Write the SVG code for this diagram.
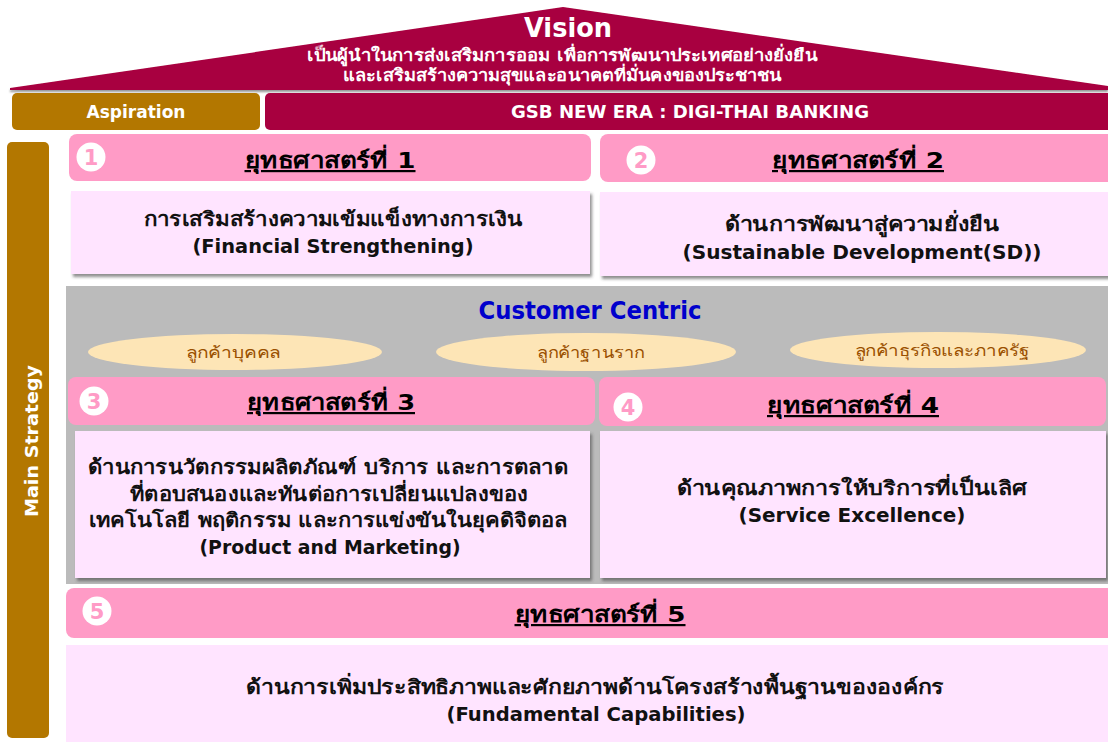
<svg xmlns="http://www.w3.org/2000/svg" width="1108" height="742" viewBox="0 0 1108 742">
  <defs>
    <filter id="shadow" x="-5%" y="-10%" width="110%" height="125%">
      <feDropShadow dx="2" dy="3" stdDeviation="1.5" flood-color="#444" flood-opacity="0.6"/>
    </filter>
    <filter id="roofShadow" x="-5%" y="-10%" width="110%" height="130%">
      <feDropShadow dx="0" dy="2" stdDeviation="1" flood-color="#666" flood-opacity="0.7"/>
    </filter>
  </defs>
  <style>
    text { font-family: "DejaVu Sans", "Liberation Sans", "Noto Sans", sans-serif; font-weight: bold; }
    .crimson { fill: #A8003F; }
    .gold { fill: #B37700; }
    .head { fill: #FF9BC6; }
    .body { fill: #FFE4FF; }
    .w { fill: #FFFFFF; text-anchor: middle; }
    .title { fill: #000; font-size: 22px; text-anchor: middle; text-decoration: underline; }
    .txt { fill: #111; font-size: 20px; text-anchor: middle; }
    .num { fill: #FF9BC6; font-size: 21px; text-anchor: middle; }
    .oval { fill: #FDE5B6; }
    .otxt { fill: #9A5000; font-size: 15.5px; text-anchor: middle; font-weight: normal; }
  </style>

  <rect width="1108" height="742" fill="#FFFFFF"/>

  <!-- Roof: vision -->
  <g id="vision">
    <polygon points="10,88 563,7 1108,86 1108,90 10,90" class="crimson" filter="url(#roofShadow)"/>
    <text x="568" y="37" class="w" font-size="27" textLength="88" lengthAdjust="spacingAndGlyphs">Vision</text>
    <text x="562" y="61" class="w" font-size="16.5" textLength="510" lengthAdjust="spacingAndGlyphs">เป็นผู้นำในการส่งเสริมการออม เพื่อการพัฒนาประเทศอย่างยั่งยืน</text>
    <text x="562" y="81" class="w" font-size="16.5" textLength="438" lengthAdjust="spacingAndGlyphs">และเสริมสร้างความสุขและอนาคตที่มั่นคงของประชาชน</text>
  </g>

  <!-- Aspiration row -->
  <g id="aspiration">
    <rect x="12" y="93" width="248" height="37" rx="5" class="gold"/>
    <text x="136" y="118" class="w" font-size="17" textLength="99" lengthAdjust="spacingAndGlyphs">Aspiration</text>
  </g>
  <g id="gsb-new-era">
    <rect x="265" y="93" width="850" height="37" rx="5" class="crimson"/>
    <text x="690" y="118" class="w" font-size="17" textLength="358" lengthAdjust="spacingAndGlyphs">GSB NEW ERA : DIGI-THAI BANKING</text>
  </g>

  <!-- Left column label -->
  <g id="main-strategy">
    <rect x="7" y="142" width="42" height="596" rx="5" class="gold"/>
    <text transform="translate(38,441) rotate(-90)" x="0" y="0" class="w" font-size="18" textLength="152" lengthAdjust="spacingAndGlyphs">Main Strategy</text>
  </g>

  <!-- Strategy 1 -->
  <g id="strategy-1">
    <rect x="69" y="134" width="522" height="47" rx="8" class="head"/>
    <circle cx="91" cy="157" r="14.5" fill="#FFFFFF"/>
    <text x="91" y="165" class="num">1</text>
    <text x="330" y="168" class="title" textLength="171" lengthAdjust="spacingAndGlyphs">ยุทธศาสตร์ที่ 1</text>
    <rect x="71" y="191" width="519" height="83" class="body" filter="url(#shadow)"/>
    <text x="333" y="226" class="txt" textLength="379" lengthAdjust="spacingAndGlyphs">การเสริมสร้างความเข้มแข็งทางการเงิน</text>
    <text x="333" y="253" class="txt" textLength="281" lengthAdjust="spacingAndGlyphs">(Financial Strengthening)</text>
  </g>

  <!-- Strategy 2 -->
  <g id="strategy-2">
    <rect x="600" y="134" width="516" height="48" rx="8" class="head"/>
    <circle cx="641" cy="160" r="14.5" fill="#FFFFFF"/>
    <text x="641" y="168" class="num">2</text>
    <text x="858" y="168" class="title" textLength="172" lengthAdjust="spacingAndGlyphs">ยุทธศาสตร์ที่ 2</text>
    <rect x="600" y="192" width="516" height="84" class="body" filter="url(#shadow)"/>
    <text x="862" y="231" class="txt" textLength="275" lengthAdjust="spacingAndGlyphs">ด้านการพัฒนาสู่ความยั่งยืน</text>
    <text x="862" y="259" class="txt" textLength="359" lengthAdjust="spacingAndGlyphs">(Sustainable Development(SD))</text>
  </g>

  <!-- Customer-centric band -->
  <g id="customer-centric">
    <rect x="66" y="286" width="1042" height="298" fill="#BBBBBB"/>
    <text x="590" y="319" font-size="24" fill="#0000CC" text-anchor="middle" textLength="223" lengthAdjust="spacingAndGlyphs">Customer Centric</text>
    <ellipse cx="235" cy="352" rx="147" ry="18" class="oval"/>
    <text x="233" y="358" class="otxt" textLength="94" lengthAdjust="spacingAndGlyphs">ลูกค้าบุคคล</text>
    <ellipse cx="586" cy="352" rx="150" ry="19" class="oval"/>
    <text x="591" y="358" class="otxt" textLength="108" lengthAdjust="spacingAndGlyphs">ลูกค้าฐานราก</text>
    <ellipse cx="938" cy="350" rx="148" ry="18" class="oval"/>
    <text x="942" y="356" class="otxt" textLength="175" lengthAdjust="spacingAndGlyphs">ลูกค้าธุรกิจและภาครัฐ</text>
  </g>

  <!-- Strategy 3 -->
  <g id="strategy-3">
    <rect x="68" y="377" width="527" height="48" rx="8" class="head"/>
    <circle cx="94" cy="401" r="14.5" fill="#FFFFFF"/>
    <text x="94" y="409" class="num">3</text>
    <text x="331" y="410" class="title" textLength="168" lengthAdjust="spacingAndGlyphs">ยุทธศาสตร์ที่ 3</text>
    <rect x="75" y="431" width="515" height="147" class="body" filter="url(#shadow)"/>
    <text x="328" y="474" class="txt" textLength="480" lengthAdjust="spacingAndGlyphs">ด้านการนวัตกรรมผลิตภัณฑ์ บริการ และการตลาด</text>
    <text x="329" y="501" class="txt" textLength="398" lengthAdjust="spacingAndGlyphs">ที่ตอบสนองและทันต่อการเปลี่ยนแปลงของ</text>
    <text x="328" y="527" class="txt" textLength="479" lengthAdjust="spacingAndGlyphs">เทคโนโลยี พฤติกรรม และการแข่งขันในยุคดิจิตอล</text>
    <text x="330" y="554" class="txt" textLength="261" lengthAdjust="spacingAndGlyphs">(Product and Marketing)</text>
  </g>

  <!-- Strategy 4 -->
  <g id="strategy-4">
    <rect x="599" y="377" width="507" height="49" rx="8" class="head"/>
    <circle cx="628" cy="407" r="14.5" fill="#FFFFFF"/>
    <text x="628" y="415" class="num">4</text>
    <text x="853" y="413" class="title" textLength="172" lengthAdjust="spacingAndGlyphs">ยุทธศาสตร์ที่ 4</text>
    <rect x="600" y="431" width="506" height="147" class="body" filter="url(#shadow)"/>
    <text x="852" y="495" class="txt" textLength="351" lengthAdjust="spacingAndGlyphs">ด้านคุณภาพการให้บริการที่เป็นเลิศ</text>
    <text x="852" y="522" class="txt" textLength="227" lengthAdjust="spacingAndGlyphs">(Service Excellence)</text>
  </g>

  <!-- Strategy 5 -->
  <g id="strategy-5">
    <rect x="66" y="588" width="1050" height="50" rx="8" class="head"/>
    <circle cx="97" cy="611" r="14.5" fill="#FFFFFF"/>
    <text x="97" y="619" class="num">5</text>
    <text x="600" y="622" class="title" textLength="171" lengthAdjust="spacingAndGlyphs">ยุทธศาสตร์ที่ 5</text>
    <rect x="66" y="645" width="1050" height="100" class="body"/>
    <text x="595" y="694" class="txt" textLength="698" lengthAdjust="spacingAndGlyphs">ด้านการเพิ่มประสิทธิภาพและศักยภาพด้านโครงสร้างพื้นฐานขององค์กร</text>
    <text x="596" y="721" class="txt" textLength="299" lengthAdjust="spacingAndGlyphs">(Fundamental Capabilities)</text>
  </g>
</svg>
